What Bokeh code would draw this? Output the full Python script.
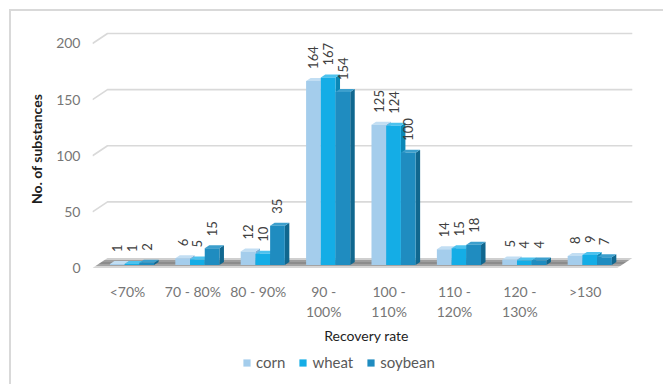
import math

from bokeh.core.properties import value
from bokeh.embed import file_html
from bokeh.layouts import column
from bokeh.models import FixedTicker, Legend, LegendItem, Range1d
from bokeh.plotting import figure
from bokeh.resources import INLINE

# ---- data -------------------------------------------------------------
categories = ["<70%", "70 - 80%", "80 - 90%", "90 -\n100%", "100 -\n110%",
              "110 -\n120%", "120 -\n130%", ">130"]
corn = [1, 6, 12, 164, 125, 14, 5, 8]
wheat = [1, 5, 10, 167, 124, 15, 4, 9]
soybean = [2, 15, 35, 154, 100, 18, 4, 7]
series_names = ["corn", "wheat", "soybean"]
y_ticks = [0, 50, 100, 150, 200]

# ---- layout -----------------------------------------------------------
W = 663
H_CHART, H_LEGEND = 350, 34
B_LEFT, B_RIGHT, B_TOP, B_BOTTOM = 92, 23, 25, 78
X0, X1 = -0.535, 7.845
Y0, Y1 = -4, 216
KX = (W - B_LEFT - B_RIGHT) / (X1 - X0)           # px per category
KY = (H_CHART - B_TOP - B_BOTTOM) / (Y1 - Y0)     # px per unit value

DX = 15 / KX            # full depth of the 3-D box, in data units
DY = 10 / KY
FLOOR_L, FLOOR_R = -0.535, 7.49
BAR_W = 0.225
BAR_FRONT = 0.3         # fraction of depth where bar fronts sit
BAR_DEPTH = 0.3
LABEL_GAP = 12 / KY

FONT = "Lato"
BORDER = "#d9d9d9"
fills = {
    "corn":    dict(front="#a4cdec", top="#c2def3", side="#7fb1d8"),
    "wheat":   dict(front="#14ade6", top="#4cc2ee", side="#0b87b6"),
    "soybean": dict(front="#1f8cc0", top="#3c9fcd", side="#10678f"),
}

p = figure(width=W, height=H_CHART, output_backend="svg", toolbar_location=None,
           x_range=Range1d(X0, X1), y_range=Range1d(Y0, Y1),
           min_border_left=B_LEFT, min_border_right=B_RIGHT,
           min_border_top=B_TOP, min_border_bottom=B_BOTTOM,
           tools="")
p.outline_line_color = None
p.background_fill_color = "white"
p.border_fill_alpha = 0
p.grid.visible = False
p.styles = {
    "background": f"linear-gradient({BORDER},{BORDER}) 9px 9px / 100% 2px no-repeat, "
                  f"linear-gradient({BORDER},{BORDER}) 9px 9px / 2px 100% no-repeat, white"
}

# ---- back-wall gridlines with their slanted left ends ------------------
gx, gy = [], []
for t in y_ticks[1:]:
    gx.append([FLOOR_L, FLOOR_L + DX, FLOOR_R + DX])
    gy.append([t, t + DY, t + DY])
p.multi_line(gx, gy, line_color="#d9d9d9", line_width=1.6)

# ---- floor, shaded in bands from back to front ---------------------------
floor_cols = ["#cfcfcf", "#9e9e9e", "#8c8c8c", "#a3a3a3", "#d6d6d6"]
n = len(floor_cols)
fxs, fys = [], []
for k in range(n):
    f0 = 1 - k / n
    f1 = 1 - (k + 1) / n
    fxs.append([FLOOR_L + f0 * DX, FLOOR_R + f0 * DX, FLOOR_R + f1 * DX, FLOOR_L + f1 * DX])
    fys.append([f0 * DY, f0 * DY, f1 * DY, f1 * DY])
p.patches(fxs, fys, fill_color=floor_cols, line_color=None)

# ---- 3-D bars -----------------------------------------------------------
bdx, bdy = BAR_DEPTH * DX, BAR_DEPTH * DY
sx, sy = BAR_FRONT * DX, BAR_FRONT * DY
lab_x, lab_y, lab_t = [], [], []
for j, (name, vals) in enumerate(zip(series_names, [corn, wheat, soybean])):
    fr_x, fr_y, tp_x, tp_y, sd_x, sd_y = [], [], [], [], [], []
    for i, v in enumerate(vals):
        xl = i - 1.5 * BAR_W + j * BAR_W + sx
        xr = xl + BAR_W
        yb = sy
        yt = v + sy
        fr_x.append([xl, xr, xr, xl]); fr_y.append([yb, yb, yt, yt])
        tp_x.append([xl, xr, xr + bdx, xl + bdx]); tp_y.append([yt, yt, yt + bdy, yt + bdy])
        sd_x.append([xr, xr + bdx, xr + bdx, xr]); sd_y.append([yb, yb + bdy, yt + bdy, yt])
        lab_x.append((xl + xr) / 2); lab_y.append(yt + LABEL_GAP); lab_t.append(str(v))
    c = fills[name]
    p.patches(sd_x, sd_y, fill_color=c["side"], line_color=None)
    p.patches(tp_x, tp_y, fill_color=c["top"], line_color=None)
    p.patches(fr_x, fr_y, fill_color=c["front"], line_color=None)

p.text(lab_x, lab_y, text=lab_t, angle=math.pi / 2, text_align="left",
       text_baseline="middle", text_font=value(FONT), text_font_size="13px",
       text_color="#404040")

# ---- axes ---------------------------------------------------------------
for ax in (p.xaxis, p.yaxis):
    ax.axis_line_color = None
    ax.major_tick_line_color = None
    ax.minor_tick_line_color = None
    ax.major_tick_out = 0
    ax.major_tick_in = 0
    ax.minor_tick_out = 0
    ax.major_label_text_font = FONT
    ax.major_label_text_font_size = "14px"
    ax.major_label_text_color = "#767676"
    ax.axis_label_text_font = FONT
    ax.axis_label_text_font_size = "14px"
    ax.axis_label_text_color = "#1e1e1e"

p.yaxis.ticker = FixedTicker(ticks=y_ticks)
p.yaxis.major_label_standoff = 12
p.yaxis.axis_label = "No. of substances"
p.yaxis.axis_label_text_font_style = "bold"
p.yaxis.axis_label_standoff = 8

p.xaxis.ticker = FixedTicker(ticks=list(range(len(categories))))
p.xaxis.major_label_overrides = {i: c for i, c in enumerate(categories)}
p.xaxis.major_label_standoff = 10
p.xaxis.axis_label = "Recovery rate"
p.xaxis.axis_label_text_font_style = "normal"
p.xaxis.axis_label_standoff = 4

# ---- legend strip under the chart ----------------------------------------
# its frame is aligned with the chart frame, so the location is frame-relative
leg = figure(width=W, height=H_LEGEND, output_backend="svg", toolbar_location=None,
             x_range=Range1d(0, 1), y_range=Range1d(0, 1), min_border=0, tools="")
leg.axis.visible = False
leg.grid.visible = False
leg.outline_line_color = None
leg.background_fill_alpha = 0
leg.border_fill_alpha = 0
leg.styles = {
    "background": f"linear-gradient({BORDER},{BORDER}) 9px 0 / 2px 100% no-repeat, white"
}
nan = float("nan")
items = []
for name in series_names:
    # swatch-only renderer: a single all-NaN patch draws nothing in the frame
    r = leg.patches(xs=[[nan, nan, nan]], ys=[[nan, nan, nan]],
                    fill_color=fills[name]["front"], line_color=None)
    items.append(LegendItem(label=name, renderers=[r]))
legend = Legend(items=items, orientation="horizontal", location=(150, 13),
                glyph_width=9, glyph_height=9, label_standoff=5, spacing=13,
                padding=0, margin=0, border_line_alpha=0, background_fill_alpha=0,
                label_text_font=FONT, label_text_font_size="15px",
                label_text_color="#595959")
leg.add_layout(legend)

open("out.html", "w").write(file_html(column(p, leg, spacing=0), INLINE))
